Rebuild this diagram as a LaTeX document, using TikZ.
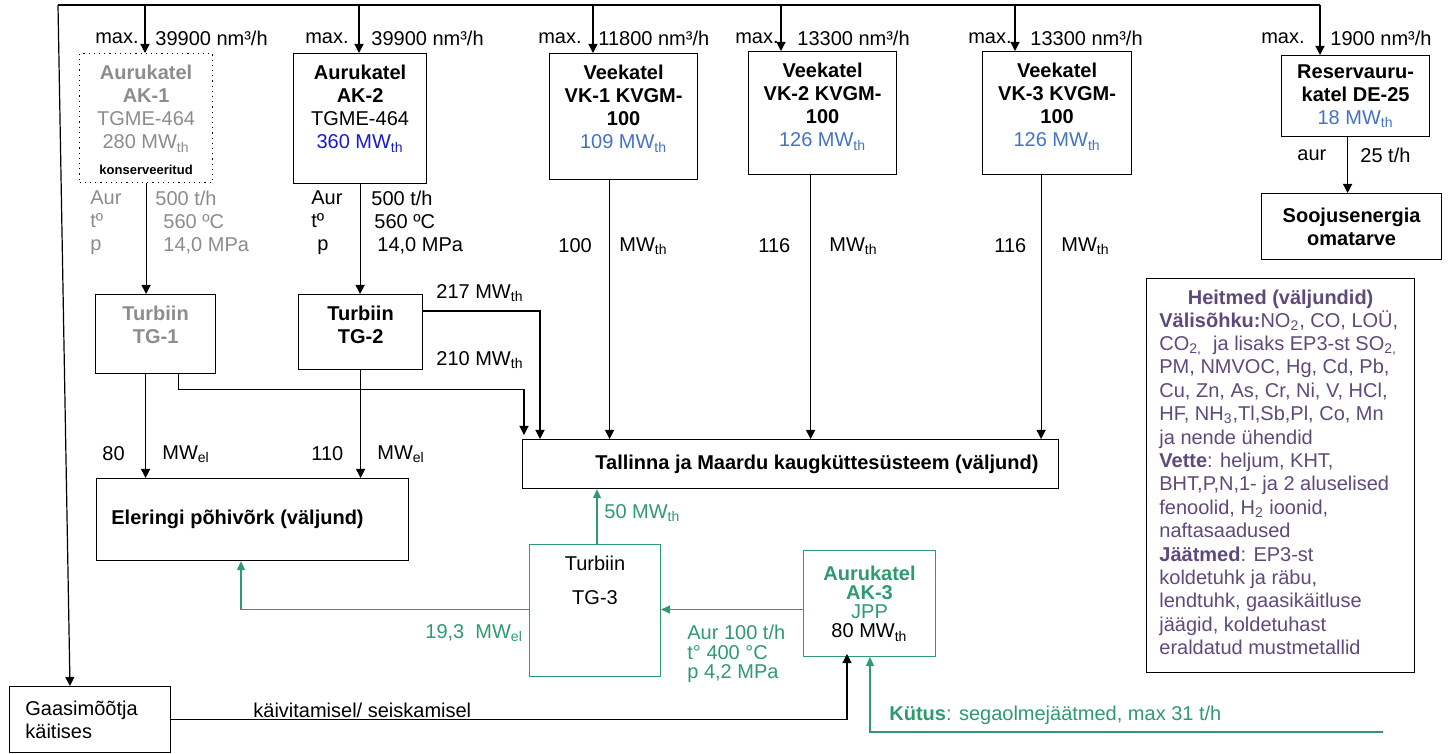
\documentclass[tikz,border=0pt]{standalone}
\usepackage{fontspec}
\setmainfont{Liberation Sans}
\usepackage{tikz}
\usetikzlibrary{arrows.meta,positioning}
\definecolor{EjGray}{HTML}{8C8C8C}
\definecolor{EjBlue}{HTML}{1A1ACF}
\definecolor{EjSky}{HTML}{4472C4}
\definecolor{EjGreen}{HTML}{2E9A6E}
\definecolor{EjPurple}{HTML}{5F497A}
\newcommand{\fs}{\fontsize{10}{11.5}\selectfont}
\newcommand{\MWth}{MW\textsubscript{th}}
\newcommand{\MWel}{MW\textsubscript{el}}

\begin{document}
\begin{tikzpicture}[x=0.5pt, y=-0.5pt, every node/.style={font=\fs, inner sep=0pt}, b/.style={draw,line width=0.6pt,anchor=north west}, g/.style={draw=EjGreen,line width=0.5pt,anchor=north west}, t/.style={align=center}, l/.style={anchor=west}, a/.style={-{Triangle[length=4.5pt,width=4.5pt]},line width=0.6pt}, ga/.style={-{Triangle[length=4.5pt,width=4pt]},line width=0.6pt,EjGreen}]
\useasboundingbox (0,0) rectangle (1453,754);
\coordinate (gL) at (58,5); \coordinate (gR) at (1320,5);
\coordinate (t1) at (145,5); \coordinate (t2) at (359,5); \coordinate (t3) at (593,5); \coordinate (t4) at (781,5); \coordinate (t5) at (1015,5);
\coordinate (fuel) at (1383,732);
\node[b,dotted,minimum width=66.5pt,minimum height=64.5pt] (ak1) at (79,53) {};
\node[t,text=EjGray,below=6pt of ak1.north] (ak1t) {\textbf{Aurukatel}\\\textbf{AK-1}\\TGME-464\\280 \MWth};
\node[font=\fontsize{6.5}{8}\selectfont\bfseries,above=4pt of ak1.south] (ak1k) {konserveeritud};
\node[b,minimum width=66.5pt,minimum height=65pt] (ak2) at (293,53) {};
\node[t,below=6pt of ak2.north] (ak2t) {\textbf{Aurukatel}\\\textbf{AK-2}\\TGME-464\\\textcolor{EjBlue}{360 \MWth}};
\node[b,minimum width=74pt,minimum height=63pt] (vk1) at (549,53) {};
\node[t,below=6pt of vk1.north] (vk1t) {\textbf{Veekatel}\\\textbf{VK-1 KVGM-}\\\textbf{100}\\\textcolor{EjSky}{109 \MWth}};
\node[b,minimum width=74pt,minimum height=61.5pt] (vk2) at (748,51) {};
\node[t,below=6pt of vk2.north] (vk2t) {\textbf{Veekatel}\\\textbf{VK-2 KVGM-}\\\textbf{100}\\\textcolor{EjSky}{126 \MWth}};
\node[b,minimum width=74.5pt,minimum height=61.5pt] (vk3) at (982,51) {};
\node[t,below=6pt of vk3.north] (vk3t) {\textbf{Veekatel}\\\textbf{VK-3 KVGM-}\\\textbf{100}\\\textcolor{EjSky}{126 \MWth}};
\node[b,t,minimum width=74pt,minimum height=40.5pt] (res) at (1281,55) {\textbf{Reservauru-}\\\textbf{katel DE-25}\\\textcolor{EjSky}{18 \MWth}};
\node[b,t,font=\fs\bfseries,minimum width=90pt,minimum height=33pt] (sooj) at (1261,193) {Soojusenergia\\omatarve};
\node[b,minimum width=60pt,minimum height=39.5pt] (tg1) at (95,294) {};
\node[t,text=EjGray,font=\fs\bfseries,below=6pt of tg1.north] (tg1t) {Turbiin\\TG-1};
\node[b,minimum width=62pt,minimum height=37.5pt] (tg2) at (298,294) {};
\node[t,font=\fs\bfseries,below=6pt of tg2.north] (tg2t) {Turbiin\\TG-2};
\node[b,minimum width=156pt,minimum height=41pt] (eler) at (96,478) {};
\node[font=\fs\bfseries,right=7.5pt of eler.west] (elert) {Eleringi põhivõrk (väljund)};
\node[b,minimum width=268pt,minimum height=24.5pt] (tks) at (522,439) {};
\node[font=\fs\bfseries,right=36.5pt of tks.west] (tkst) {Tallinna ja Maardu kaugküttesüsteem (väljund)};
\node[g,minimum width=65.5pt,minimum height=66pt] (tg3) at (529,544) {};
\node[t,below=6pt of tg3.north] (tg3t) {Turbiin\\[5.5pt]TG-3};
\node[g,t,font=\fontsize{10}{9.6}\selectfont,minimum width=66pt,minimum height=53pt] (ak3) at (803,550) {\textcolor{EjGreen}{\textbf{Aurukatel}}\\\textcolor{EjGreen}{\textbf{AK-3}}\\\textcolor{EjGreen}{JPP}\\80 \MWth};
\node[b,minimum width=80.5pt,minimum height=33pt] (gaas) at (9,686) {};
\node[align=left,right=8pt of gaas.west] (gaast) {Gaasimõõtja\\käitises};
\node[b,minimum width=134pt,minimum height=197pt] (heit) at (1146,278) {};
\node[font=\fs\bfseries,text=EjPurple,below=6pt of heit.north] (heith) {Heitmed (väljundid)};
\node[align=left,text=EjPurple,font=\fontsize{10}{11.7}\selectfont,anchor=north west] (heitt) at (1159,310) {\textbf{Välisõhku:}NO\textsubscript{2}, CO, LOÜ,\\CO\textsubscript{2,} \ ja lisaks EP3-st SO\textsubscript{2,}\\PM, NMVOC, Hg, Cd, Pb,\\Cu, Zn, As, Cr, Ni, V, HCl,\\HF, NH\textsubscript{3},Tl,Sb,Pl, Co, Mn\\ja nende ühendid\\\textbf{Vette}: heljum, KHT,\\BHT,P,N,1- ja 2 aluselised\\fenoolid, H\textsubscript{2} ioonid,\\naftasaadused\\\textbf{Jäätmed}: EP3-st\\koldetuhk ja räbu,\\lendtuhk, gaasikäitluse\\jäägid, koldetuhast\\eraldatud mustmetallid};
\node[anchor=east] (m1) at (139,38) {max.}; \node[l] (n1) at (155,38) {39900 nm³/h};
\node[anchor=east] (m2) at (349,38) {max.}; \node[l] (n2) at (371,38) {39900 nm³/h};
\node[anchor=east] (m3) at (582,38) {max.}; \node[l] (n3) at (598,38) {11800 nm³/h};
\node[anchor=east] (m4) at (779,38) {max.}; \node[l] (n4) at (797,38) {13300 nm³/h};
\node[anchor=east] (m5) at (1012,38) {max.}; \node[l] (n5) at (1030,38) {13300 nm³/h};
\node[anchor=east] (m6) at (1305,38) {max.}; \node[l] (n6) at (1330,38) {1900 nm³/h};
\node[l,align=left,text=EjGray] (ak1p) at (90,223) {Aur\\tº\\p};
\node[l,align=left,text=EjGray] (ak1v) at (155,223) {500 t/h\\\hspace{4pt}560 ºC\\\hspace{4pt}14,0 MPa};
\node[l,align=left] (ak2p) at (311,223) {Aur\\tº\\\hspace{3pt}p};
\node[l,align=left] (ak2v) at (371,223) {500 t/h\\\hspace{1.5pt}560 ºC\\\hspace{3pt}14,0 MPa};
\node[l] (v1a) at (558,246) {100}; \node[l] (v1b) at (619,246) {\MWth};
\node[l] (v2a) at (758,246) {116}; \node[l] (v2b) at (829,246) {\MWth};
\node[l] (v3a) at (994,246) {116}; \node[l] (v3b) at (1061,246) {\MWth};
\node[l] (r1) at (1297,155) {aur}; \node[l] (r2) at (1360,155) {25 t/h};
\node[l] (q217) at (436,293) {217 \MWth}; \node[l] (q210) at (436,360) {210 \MWth};
\node[l] (e1a) at (102,454) {80}; \node[l] (e1b) at (162,454) {\MWel};
\node[l] (e2a) at (311,454) {110}; \node[l] (e2b) at (377,454) {\MWel};
\node[l,text=EjGreen] (p50) at (604,513) {50 \MWth};
\node[l,text=EjGreen] (p19) at (425,633) {19,3 \ \MWel};
\node[l,align=left,text=EjGreen,font=\fontsize{10}{9.6}\selectfont] (ak3s) at (687,654) {Aur 100 t/h\\t° 400 °C\\p 4,2 MPa};
\node[l] (kv) at (253,710) {käivitamisel/ seiskamisel};
\node[l,text=EjGreen] (kut) at (889,715) {\textbf{Kütus}: segaolmejäätmed, max 31 t/h};
\draw[line width=0.6pt] (gL) -- (gR);
\draw[a] (gL) -- ([xshift=30.5pt]gaas.north west);
\draw[a] (t1) -- (t1 |- ak1.north); \draw[a] (t2) -- (t2 |- ak2.north); \draw[a] (t3) -- (t3 |- vk1.north); \draw[a] (t4) -- (t4 |- vk2.north); \draw[a] (t5) -- (t5 |- vk3.north); \draw[a] (gR) -- (gR |- res.north);
\draw[a] (ak1.south) -- (ak1.south |- tg1.north); \draw[a] (ak2.south) -- (ak2.south |- tg2.north);
\draw[a] ([xshift=-5pt]tg1.south) -- ([xshift=-5pt]tg1.south |- eler.north); \draw[a] (tg2.south) -- (tg2.south |- eler.north);
\draw[a] ([yshift=10.5pt]tg2.east) -| ([xshift=9pt]tks.north west);
\draw[a] ([xshift=11.5pt]tg1.south) -- ++(0,15) -| ([xshift=1pt,yshift=2pt]tks.north west);
\draw[a] ([xshift=-7pt]vk1.south) -- ([xshift=-7pt]vk1.south |- tks.north); \draw[a] ([xshift=-6pt]vk2.south) -- ([xshift=-6pt]vk2.south |- tks.north); \draw[a] ([xshift=-8pt]vk3.south) -- ([xshift=-8pt]vk3.south |- tks.north);
\draw[a] ([xshift=-4pt]res.south) -- ([xshift=-4pt]res.south |- sooj.north);
\draw[ga] ([xshift=1pt]tg3.north) -- ([xshift=1pt]tg3.north |- tks.south);
\draw[ga] ([yshift=-3pt]ak3.west) -- ([yshift=-3pt]ak3.west -| tg3.east);
\draw[ga] ([yshift=0.5pt]tg3.west) -| ([xshift=72.5pt]eler.south west);
\draw[a] (gaas.east) -| ([xshift=22pt,yshift=1.5pt]ak3.south west);
\draw[ga] (fuel) -| ([xshift=33.5pt]ak3.south west);
\end{tikzpicture}
\end{document}
